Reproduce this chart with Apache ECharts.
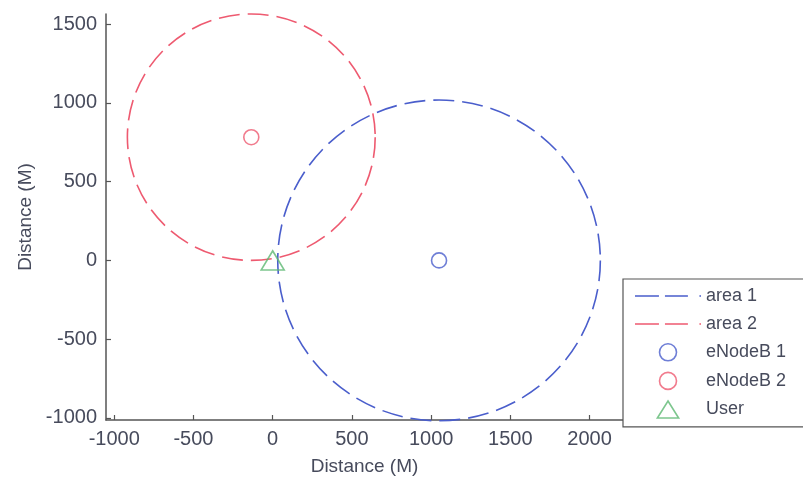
<!DOCTYPE html>
<html><head><meta charset="utf-8">
<script src="https://cdn.jsdelivr.net/npm/echarts@6/dist/echarts.min.js"></script>
<style>html,body{margin:0;padding:0;background:#fff}#c{width:803px;height:481px}</style>
</head><body><div id="c"></div>
<script>
// ---- data ----
const xTicks = [-1000, -500, 0, 500, 1000, 1500, 2000];
const yTicks = [-1000, -500, 0, 500, 1000, 1500];
const xRange = [-1052, 2211];
const yRange = [-1013, 1564];
const axisTitleX = 'Distance (M)';
const axisTitleY = 'Distance (M)';
const areaNames = ['area 1', 'area 2'];
const areaCenters = [[1050, 0], [-135, 782]];
const areaRadii = [1018, 782];
const enbNames = ['eNodeB 1', 'eNodeB 2'];
const enbPositions = [[1050, 0], [-135, 782]];
const userName = 'User';
const userPosition = [0, 0];

// ---- style ----
const BLUE = '#4a5ecc', RED = '#ee5a70', GREEN = '#5cb872';
const TXT = '#474b5c', AX = '#555555';
const FONT = 'Liberation Sans, Arial, sans-serif';
const areaColors = [BLUE, RED];
const enbColors = [BLUE, RED];

function renderCircle(params, api) {
  const c = api.coord([api.value(0), api.value(1)]);
  const s = api.size([api.value(2), api.value(2)]);
  return {
    type: 'circle',
    shape: { cx: 0, cy: 0, r: s[0] },
    x: c[0], y: c[1], scaleY: s[1] / s[0],
    style: { fill: 'none', stroke: api.visual('color'), lineWidth: 1.6, lineDash: [21, 8] },
    silent: true
  };
}

const series = [];
areaNames.forEach((n, i) => {
  series.push({
    type: 'custom', name: n, renderItem: renderCircle, clip: false,
    itemStyle: { color: areaColors[i] },
    data: [[areaCenters[i][0], areaCenters[i][1], areaRadii[i]]]
  });
});
enbNames.forEach((n, i) => {
  series.push({
    type: 'scatter', name: n, symbol: 'circle', symbolSize: 15,
    itemStyle: { color: 'rgba(0,0,0,0)', borderColor: enbColors[i], borderWidth: 1.6 },
    data: [enbPositions[i]]
  });
});
series.push({
  type: 'scatter', name: userName, symbol: 'triangle', symbolSize: [23, 19],
  itemStyle: { color: 'rgba(0,0,0,0)', borderColor: GREEN, borderWidth: 1.6 },
  data: [userPosition]
});

const dashIcon = 'path://M0,0h24v1.6h-24z M30,0h23v1.6h-23z M64.5,0h1.6v1.6h-1.6z';
const triIcon = 'path://M12.5,0L25,20L0,20Z';
const fmt = v => String(v);

const chart = echarts.init(document.getElementById('c'), null, { renderer: 'canvas' });
chart.setOption({
  animation: false,
  backgroundColor: '#ffffff',
  textStyle: { fontFamily: FONT },
  grid: { left: 106, right: 180, top: 14, bottom: 60, containLabel: false },
  xAxis: {
    type: 'value', min: xRange[0], max: xRange[1],
    name: axisTitleX, nameLocation: 'middle', nameGap: 37,
    nameTextStyle: { color: TXT, fontSize: 19, fontFamily: FONT },
    splitLine: { show: false },
    axisLine: { show: true, onZero: false, lineStyle: { color: AX, width: 1.5 } },
    axisTick: { show: true, inside: true, length: 5, customValues: xTicks, lineStyle: { color: AX, width: 1.2 } },
    axisLabel: { color: TXT, fontSize: 20, margin: 9, customValues: xTicks, fontFamily: FONT, formatter: fmt }
  },
  yAxis: {
    type: 'value', min: yRange[0], max: yRange[1],
    name: axisTitleY, nameLocation: 'middle', nameGap: 70, nameRotate: 90,
    nameTextStyle: { color: TXT, fontSize: 19, fontFamily: FONT },
    splitLine: { show: false },
    axisLine: { show: true, onZero: false, lineStyle: { color: AX, width: 1.5 } },
    axisTick: { show: true, inside: true, length: 5, customValues: yTicks, lineStyle: { color: AX, width: 1.2 } },
    axisLabel: { color: TXT, fontSize: 20, margin: 9, customValues: yTicks, fontFamily: FONT, formatter: fmt }
  },
  legend: {
    orient: 'vertical', left: 623, top: 279,
    padding: [8, 40, 8, 12],
    itemWidth: 66, itemHeight: 17, itemGap: 10,
    backgroundColor: '#ffffff', borderColor: AX, borderWidth: 1.2,
    textStyle: { color: TXT, fontSize: 18, fontFamily: FONT, lineHeight: 18 },
    selectedMode: false,
    data: [
      { name: areaNames[0], icon: dashIcon, itemStyle: { color: BLUE, borderWidth: 0 } },
      { name: areaNames[1], icon: dashIcon, itemStyle: { color: RED, borderWidth: 0 } },
      { name: enbNames[0], icon: 'circle', itemStyle: { color: 'rgba(0,0,0,0)', borderColor: BLUE, borderWidth: 1.6 } },
      { name: enbNames[1], icon: 'circle', itemStyle: { color: 'rgba(0,0,0,0)', borderColor: RED, borderWidth: 1.6 } },
      { name: userName, icon: triIcon, itemStyle: { color: 'rgba(0,0,0,0)', borderColor: GREEN, borderWidth: 1.6 } }
    ]
  },
  series: series
});
</script>
</body></html>
